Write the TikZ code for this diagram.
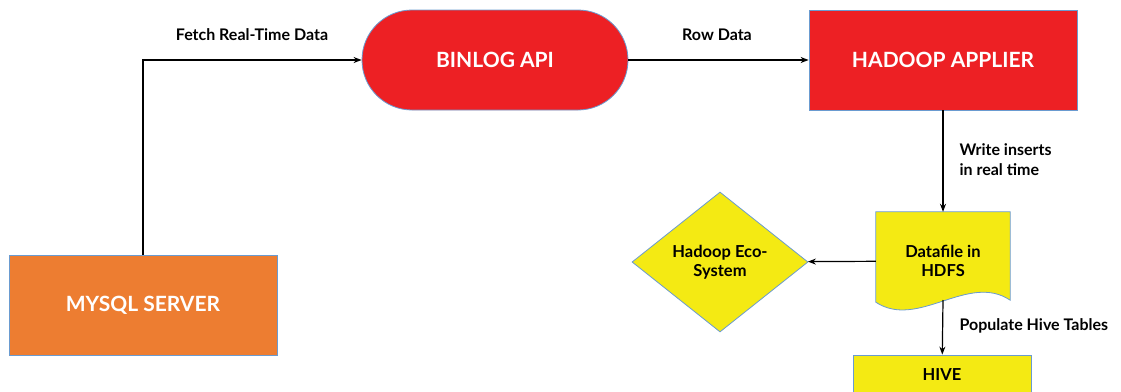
\documentclass[tikz,border=0pt]{standalone}
\usepackage{fontspec}
\setmainfont{Lato}
\usetikzlibrary{arrows.meta,shapes.geometric,backgrounds,calc}
\definecolor{boxred}{HTML}{ED2024}
\definecolor{boxorange}{HTML}{ED7D31}
\definecolor{boxyellow}{HTML}{F4EA13}
\definecolor{boxedge}{HTML}{6A9BD0}

\begin{document}
\begin{tikzpicture}[x=1pt,y=-1pt,
    box/.style={draw=boxedge,line width=0.8pt,minimum width=268pt,minimum height=100pt,
      inner sep=0pt,text=white,font=\bfseries\fontsize{21}{25}\selectfont},
    ytext/.style={text=black,align=center,font=\bfseries\fontsize{16.5}{19}\selectfont},
    lbl/.style={align=left,font=\bfseries\fontsize{16}{20}\selectfont},
    flow/.style={line width=1.2pt,-{Stealth[length=8pt,width=6pt]}}]
  \useasboundingbox (0,0) rectangle (1121,391);
  % boxes
  \node[box,fill=boxorange] (mysql) at (143,305) {MYSQL SERVER};
  \node[box,fill=boxred,rounded corners=50pt,minimum width=266pt] (binlog) at (495,60) {BINLOG API};
  \node[box,fill=boxred] (applier) at (943,60) {HADOOP APPLIER};
  \node[ytext,minimum width=134pt,minimum height=98pt,inner sep=0pt] (data) at (943,261) {Datafile in\\HDFS};
  \node[ytext,diamond,draw=boxedge,line width=0.8pt,fill=boxyellow,inner sep=0pt,
    minimum width=176pt,minimum height=140pt] (eco) at (720,262) {Hadoop Eco-\\System};
  \node[box,ytext,fill=boxyellow,minimum width=178pt,minimum height=40pt] (hive) at (942,375) {HIVE};
  \coordinate (wave) at (943,300);
  % document shape behind the datafile text
  \begin{scope}[on background layer]
    \draw[boxedge,line width=0.8pt,fill=boxyellow] (data.north west) -- (data.north east)
      -- ($(data.south east)+(0,-10)$)
      .. controls (968,272) and (918,330) .. ($(data.south west)+(0,-8)$) -- cycle;
  \end{scope}
  % connectors
  \draw[flow] (mysql.north) |- (binlog.west);
  \draw[flow] (binlog) -- (applier);
  \draw[flow] (applier) -- (data);
  \draw[flow] (data) -- (eco);
  \draw[flow] (wave) -- (hive);
  % labels
  \node[lbl] (fetch) at (252,35) {Fetch Real-Time Data};
  \node[lbl] (row) at (717,35) {Row Data};
  \node[lbl,anchor=west] (write) at (956,160) {Write inserts\\in real time};
  \node[lbl,anchor=west] (populate) at (956,326) {Populate Hive Tables};
\end{tikzpicture}
\end{document}
